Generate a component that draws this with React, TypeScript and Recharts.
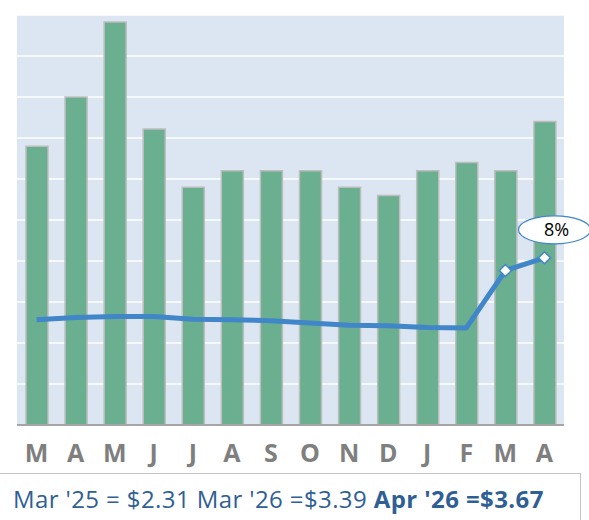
import React from "react";
import { ComposedChart, Bar, Line, XAxis, YAxis, CartesianGrid } from "recharts";

const months = ["M", "A", "M", "J", "J", "A", "S", "O", "N", "D", "J", "F", "M", "A"];
const barValues = [6.8, 8.0, 9.83, 7.22, 5.8, 6.2, 6.2, 6.2, 5.8, 5.6, 6.2, 6.4, 6.2, 7.4];
const priceValues = [2.31, 2.36, 2.38, 2.38, 2.32, 2.31, 2.29, 2.24, 2.19, 2.18, 2.14, 2.13, 3.39, 3.67];
const gridTicks = [0, 1, 2, 3, 4, 5, 6, 7, 8, 9, 10];
const changeLabel = "8%";
const footerRegular = "Mar '25 = $2.31 Mar '26 =$3.39 ";
const footerBold = "Apr '26 =$3.67";

const data = months.map((m, i) => ({ m, bar: barValues[i], price: priceValues[i] }));

const BLUE = "#4186c8";

const Diamond = (props: any) => {
  const { cx, cy, index } = props;
  if (index < data.length - 2 || cx == null) return <g key={`d${index}`} />;
  const s = 6;
  return (
    <path
      key={`d${index}`}
      d={`M${cx},${cy - s} L${cx + s},${cy} L${cx},${cy + s} L${cx - s},${cy} Z`}
      fill="#ffffff"
      stroke={BLUE}
      strokeWidth={1.5}
    />
  );
};

const BubbleLabel = (props: any) => {
  const { x, y, index } = props;
  if (index !== data.length - 1) return null;
  const cx = x + 10;
  const cy = y - 28;
  return (
    <g>
      <ellipse cx={cx} cy={cy} rx={36} ry={14} fill="#ffffff" stroke={BLUE} strokeWidth={1.2} />
      <text x={cx + 2} y={cy + 1} textAnchor="middle" dominantBaseline="middle" fontSize={18} fill="#000" fontFamily="'Open Sans', sans-serif">
        {changeLabel}
      </text>
    </g>
  );
};

export default function App() {
  return (
    <div style={{ position: "absolute", left: 0, top: 0, width: 589, height: 520, background: "#fff" }}>
      <ComposedChart width={589} height={520} data={data} margin={{ top: 15, right: 25, bottom: 45, left: 17 }}>
        <CartesianGrid yAxisId="left" vertical={false} stroke="#ffffff" strokeWidth={1.5} fill="#dce6f2" />
        <XAxis
          dataKey="m"
          height={50}
          tickLine={false}
          axisLine={{ stroke: "#a6a6a6", strokeWidth: 2 }}
          tick={{ fill: "#7f7f7f", fontSize: 25, fontWeight: 700, fontFamily: "'Open Sans', sans-serif" }}
          tickMargin={13}
          interval={0}
        />
        <YAxis yAxisId="left" hide domain={[0, 10]} ticks={gridTicks} />
        <YAxis yAxisId="right" hide orientation="right" domain={[0, 9]} />
        <Bar yAxisId="left" dataKey="bar" fill="#6aaf8f" stroke="#bdbdbd" strokeWidth={1.5} barSize={22} isAnimationActive={false} />
        <Line
          yAxisId="right"
          dataKey="price"
          type="linear"
          stroke={BLUE}
          strokeWidth={5}
          strokeLinejoin="round"
          dot={<Diamond />}
          activeDot={false}
          label={<BubbleLabel />}
          isAnimationActive={false}
        />
      </ComposedChart>
      <div
        style={{
          position: "absolute",
          left: -2,
          top: 473,
          width: 583,
          height: 60,
          border: "1px solid #c4c4c4",
          boxSizing: "border-box",
        }}
      />
      <div
        style={{
          position: "absolute",
          left: 13,
          top: 483,
          fontFamily: "'Open Sans', sans-serif",
          fontSize: 24,
          letterSpacing: 0.4,
          color: "#2f5f95",
          whiteSpace: "pre",
          lineHeight: "32px",
        }}
      >
        {footerRegular}
        <b>{footerBold}</b>
      </div>
    </div>
  );
}
